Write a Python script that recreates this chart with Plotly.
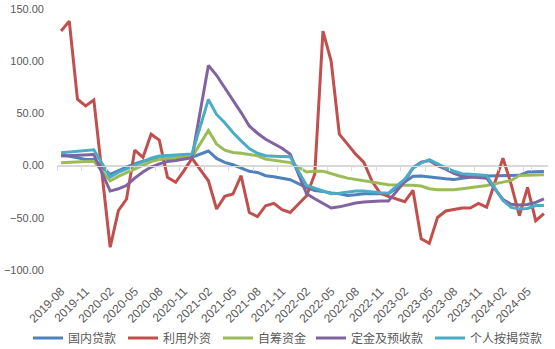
import plotly.graph_objects as go

months = [
    "2019-08", "2019-09", "2019-10", "2019-11", "2019-12",
    "2020-01", "2020-02", "2020-03", "2020-04", "2020-05", "2020-06", "2020-07",
    "2020-08", "2020-09", "2020-10", "2020-11", "2020-12",
    "2021-01", "2021-02", "2021-03", "2021-04", "2021-05", "2021-06", "2021-07",
    "2021-08", "2021-09", "2021-10", "2021-11", "2021-12",
    "2022-01", "2022-02", "2022-03", "2022-04", "2022-05", "2022-06", "2022-07",
    "2022-08", "2022-09", "2022-10", "2022-11", "2022-12",
    "2023-01", "2023-02", "2023-03", "2023-04", "2023-05", "2023-06", "2023-07",
    "2023-08", "2023-09", "2023-10", "2023-11", "2023-12",
    "2024-01", "2024-02", "2024-03", "2024-04", "2024-05", "2024-06", "2024-07",
]

tick_labels = [
    "2019-08", "2019-11", "2020-02", "2020-05", "2020-08", "2020-11", "2021-02",
    "2021-05", "2021-08", "2021-11", "2022-02", "2022-05", "2022-08", "2022-11",
    "2023-02", "2023-05", "2023-08", "2023-11", "2024-02", "2024-05",
]

y_ticks = [-100, -50, 0, 50, 100, 150]

series_names = ["国内贷款", "利用外资", "自筹资金", "定金及预收款", "个人按揭贷款"]

# January values are not published (None); lines are joined across them
domestic_loans = [
    10.3, 9.1, 7.5, 5.8, 5.8,
    None, -8.5, -4.7, -1.4, 1.7, 4.3, 5.8, 6.5, 7.2, 8.1, 8.1, 8.1,
    None, 14.0, 6.9, 3.1, 0.8, -2.4, -5.5, -6.5, -9.7, -10.7, -11.9, -13.5,
    None, -21.0, -23.8, -24.7, -26.3, -27.0, -28.6, -27.9, -27.0, -27.0, -27.0, -27.0,
    None, -15.8, -10.2, -10.0, -11.0, -12.0, -12.6, -13.2, -12.0, -11.0, -10.0, -10.0,
    None, -9.5, -9.0, -9.3, -6.2, -6.0, -5.6,
]

foreign_capital = [
    128.9, 138.4, 63.6, 57.2, 62.9,
    None, -78.2, -43.2, -32.0, 14.8, 7.8, 30.1, 24.4, -11.3, -16.0, -5.0, 6.9,
    None, -14.5, -41.6, -29.5, -27.2, -9.7, -44.9, -48.8, -38.4, -36.2, -42.2, -44.9,
    None, -28.9, -8.1, 128.9, 100.2, 30.1, 20.6, 11.0, 3.1, -15.0, -26.5, -29.5,
    None, -34.5, -23.7, -70.0, -74.5, -49.7, -43.5, -42.0, -40.6, -40.6, -36.2, -39.8,
    None, 7.1, -18.0, -48.0, -20.8, -52.8, -45.9,
]

self_raised = [
    2.7, 3.3, 3.5, 3.9, 4.2,
    None, -14.5, -10.4, -6.9, -3.1, 0.8, 3.9, 5.8, 7.2, 7.7, 8.0, 8.2,
    None, 33.7, 20.6, 14.8, 12.6, 11.8, 10.9, 9.4, 6.2, 5.3, 4.0, 2.9,
    None, -6.2, -5.3, -5.3, -7.8, -10.0, -12.0, -13.3, -14.8, -15.8, -17.4, -18.4,
    None, -18.8, -18.8, -19.6, -22.2, -23.1, -23.3, -23.1, -22.2, -21.2, -20.0, -19.0,
    None, -15.8, -14.2, -9.5, -9.0, -8.8, -8.7,
]

deposits_advances = [
    9.1, 9.4, 10.3, 10.6, 10.6,
    None, -24.4, -22.2, -19.0, -12.0, -6.2, -1.4, 1.7, 3.9, 4.9, 6.5, 7.5,
    None, 95.9, 86.5, 74.6, 62.9, 50.8, 38.0, 31.0, 25.3, 20.6, 16.7, 11.0,
    None, -27.0, -31.7, -36.5, -40.6, -39.5, -37.5, -35.9, -34.9, -34.3, -34.0, -34.0,
    None, -15.0, -2.0, 3.2, 4.8, 0.0, -3.5, -7.5, -10.3, -11.0, -11.2, -12.0,
    None, -32.5, -37.0, -37.8, -37.3, -35.2, -31.8,
]

mortgage_loans = [
    12.2, 13.0, 13.9, 14.0, 15.1,
    None, -11.0, -6.5, -3.1, 0.1, 3.9, 7.2, 9.1, 9.7, 10.0, 10.3, 11.0,
    None, 63.4, 49.0, 41.1, 31.7, 23.7, 16.3, 11.8, 9.4, 9.0, 8.8, 8.5,
    None, -19.0, -21.5, -24.7, -27.0, -26.4, -25.4, -24.4, -24.4, -25.4, -26.0, -26.4,
    None, -13.0, -2.5, 2.5, 5.8, 1.7, -2.2, -5.4, -7.7, -8.3, -8.8, -9.4,
    None, -33.5, -40.0, -41.5, -41.0, -38.3, -38.3,
]

series_values = [domestic_loans, foreign_capital, self_raised, deposits_advances, mortgage_loans]
colors = ["#4F81BD", "#C0504D", "#9BBB59", "#8064A2", "#4BACC6"]

# left edge (px) of each legend entry's line sample in the 555-px-wide page
legend_left_px = [35, 130, 225, 318, 437]
legend_ids = ["legend", "legend2", "legend3", "legend4", "legend5"]

fig = go.Figure()
for name, vals, col, lid in zip(series_names, series_values, colors, legend_ids):
    fig.add_trace(go.Scatter(
        x=months, y=vals, mode="lines", name=name, legend=lid,
        line=dict(color=col, width=3), connectgaps=True,
    ))

# invisible helper trace so the zero-line category axis (with tick marks) is drawn
fig.add_trace(go.Scatter(
    x=months, y=domestic_loans, xaxis="x2", yaxis="y", mode="lines",
    line=dict(width=1, color="rgba(0,0,0,0)"), showlegend=False,
    hoverinfo="skip", connectgaps=True,
))

legend_font = dict(family="Noto Sans CJK SC", size=12, color="#595959")
legend_layout = {}
for lid, px in zip(legend_ids, legend_left_px):
    legend_layout[lid] = dict(
        orientation="h", xref="container", yref="container",
        x=(px - 7) / 555, xanchor="left",
        y=(349 - 338) / 349, yanchor="middle",
        font=legend_font, itemwidth=30, bgcolor="rgba(0,0,0,0)",
    )

fig.update_layout(
    width=555, height=349,
    margin=dict(l=57, r=7, t=9, b=79, autoexpand=False),
    paper_bgcolor="white", plot_bgcolor="white",
    font=dict(family="Liberation Sans, Arial, sans-serif", size=11, color="#595959"),
    xaxis=dict(
        type="category", categoryorder="array", categoryarray=months,
        range=[-0.5, len(months) - 0.5],
        tickmode="array", tickvals=tick_labels, ticktext=tick_labels,
        tickangle=-45, ticks="", showline=False, showgrid=False, zeroline=False,
        automargin=False, ticklabelstandoff=11,
        tickfont=dict(size=12, color="#595959"),
    ),
    xaxis2=dict(
        type="category", categoryorder="array", categoryarray=months,
        range=[-0.5, len(months) - 0.5],
        overlaying="x", anchor="free", position=0.4, side="bottom",
        showline=True, linecolor="#D9D9D9", linewidth=1,
        ticks="outside", ticklen=4, tickcolor="#D9D9D9", tickwidth=1,
        tickson="boundaries", tickmode="array", tickvals=tick_labels,
        showticklabels=False, showgrid=False, zeroline=False, automargin=False,
    ),
    yaxis=dict(
        range=[-100, 150], tickmode="array", tickvals=y_ticks, tickformat=".2f",
        showgrid=False, zeroline=True, zerolinecolor="#D9D9D9", zerolinewidth=1,
        showline=False, ticks="",
        ticklabelstandoff=12, automargin=False,
        tickfont=dict(size=11, color="#595959"),
    ),
    showlegend=True,
    **legend_layout,
)

fig.write_html("out.html")
